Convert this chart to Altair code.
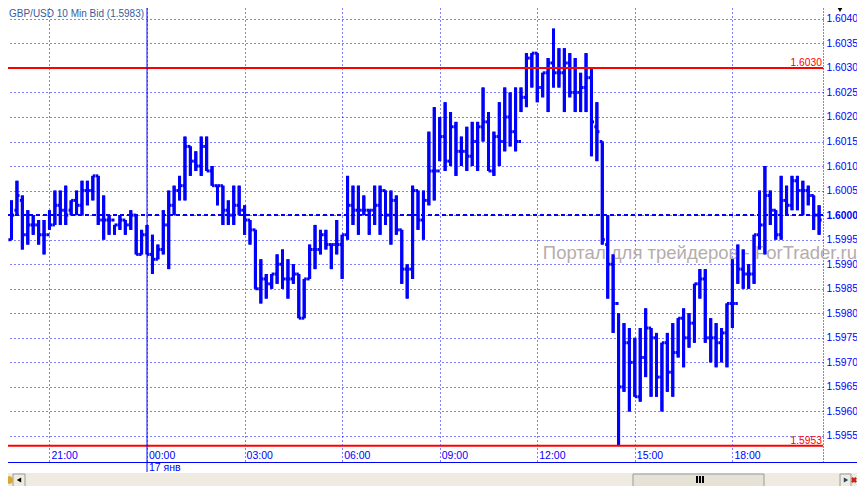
import altair as alt
import pandas as pd

# Pips relative to 1.6000, one entry per 10-minute bar; bar 0 is 17 Jan 00:00
first_bar = -27
highs = [4,-1,3,7,4,1,0,-1,-1,1,5,5,6,3,5,7,7,8,8,4,0,-2,0,-1,1,0,-3,
         -2,-4,-6,1,5,6,8,16,14,13,16,16,10,6,6,3,6,6,2,-1,-3,-9,-12,-12,-8,-7,-9,
         -10,-12,-13,-6,-2,-3,-3,-6,-1,-4,8,6,6,4,1,6,6,5,5,4,-3,-10,6,5,5,17,22,20,23,21,
         19,16,18,19,19,26,21,17,23,26,25,26,26,33,33,33,29,32,38,34,34,33,32,29,33,30,23,15,
         0,-8,-20,-22,-23,-25,-23,-19,-23,-24,-26,-24,-22,-21,-19,-20,-14,-11,-11,-21,-22,-23,-18,
         -9,-6,-7,-10,-4,5,10,5,1,8,6,8,8,7,6,4,2]
lows = [-6,-7,-5,0,-7,-6,-4,-6,-8,-3,-2,-2,-2,0,0,0,2,3,-2,-5,-4,-4,-3,-4,-3,-8,-8,
        -8,-12,-9,-8,-11,0,3,3,8,9,8,9,6,2,-2,-2,-2,0,-4,-6,-15,-18,-17,-15,-14,-15,-17,
        -14,-21,-21,-13,-11,-8,-7,-11,-8,-13,-5,-2,-4,0,-4,-2,-4,-2,-6,-4,-14,-17,-13,-3,-5,2,3,11,9,10,
        8,10,9,10,9,15,9,8,10,13,14,13,21,22,26,23,24,21,26,26,21,24,21,21,21,12,11,-6,
        -17,-24,-47,-36,-40,-37,-38,-33,-37,-37,-40,-36,-37,-29,-31,-27,-26,-17,-26,-30,-31,-30,-31,
        -23,-14,-15,-15,-14,-7,-8,-2,-5,-5,0,1,1,0,2,-3,-4]
closes = [-5,-5,0,4,-4,-2,-2,-4,-4,-2,2,1,0,3,2,5,5,8,-1,-1,-1,-2,-1,-2,0,-8,-4,
          -8,-9,-7,-2,2,5,6,14,11,10,14,9,6,6,1,0,2,1,-1,-3,-15,-13,-14,-12,-10,-13,-13,
          -12,-21,-13,-7,-7,-4,-6,-6,-6,-4,2,1,1,1,1,2,5,0,3,-3,-11,-11,5,-1,3,9,9,16,11,18,
          13,13,12,15,18,19,9,16,15,20,17,15,24,32,33,26,29,31,29,29,31,25,25,26,28,19,17,-5,
          -10,-18,-35,-26,-30,-37,-29,-23,-25,-33,-26,-32,-28,-21,-25,-22,-14,-13,-25,-25,-26,-24,-18,
          -18,-11,-12,-12,-4,-2,4,1,-4,3,2,7,5,5,4,0,-1]
opens = [-6,-5,-5,1,3,-4,-2,-2,-4,-4,-2,2,1,1,3,2,5,5,8,-1,-1,-1,-2,-1,-2,0,-8,
         -4,-8,-9,-7,-2,2,5,6,14,11,10,14,9,6,6,1,0,2,1,-1,-3,-15,-13,-14,-12,-10,-13,
         -13,-12,-21,-13,-7,-7,-4,-6,-6,-6,-4,2,1,1,1,1,2,5,0,3,-3,-11,-11,5,-1,3,9,9,16,11,
         18,13,13,12,15,18,19,9,16,15,20,17,15,24,32,33,26,29,31,29,29,31,25,25,26,28,18,15,
         -6,-10,-18,-35,-26,-30,-37,-29,-23,-25,-33,-26,-32,-28,-21,-25,-22,-14,-13,-25,-25,-26,-24,
         -18,-18,-11,-12,-12,-4,-2,4,1,-4,3,2,7,5,5,4,0]

y_ticks = [1.5955,1.5960,1.5965,1.5970,1.5975,1.5980,1.5985,1.5990,1.5995,1.6000,
           1.6005,1.6010,1.6015,1.6020,1.6025,1.6030,1.6035,1.6040]
x_ticks = [-18,0,18,36,54,72,90,108]
x_labels = ["21:00","00:00","03:00","06:00","09:00","12:00","15:00","18:00"]
date_bar = [0]
date_label = ["17 янв"]
levels_red = [1.6030,1.5953]
level_labels = ["1.6030","1.5953"]

BLUE = "#0000ff"
FONT = "Liberation Sans"
n = min(len(highs), len(lows), len(closes), len(opens))
bars = list(range(first_bar, first_bar + n))
P = lambda v: 1.6 + v * 0.0001
df = pd.DataFrame({
    "bar": bars,
    "high": [P(v) for v in highs[:n]],
    "low": [P(v) for v in lows[:n]],
    "open": [P(v) for v in opens[:n]],
    "close": [P(v) for v in closes[:n]],
})
df["l"] = df.bar - 0.47
df["r"] = df.bar + 0.47

xs = alt.Scale(domain=[-25.65, 124.72], nice=False, zero=False)
ys = alt.Scale(domain=[1.59497, 1.60422], nice=False, zero=False)

y_axis = alt.Axis(orient="right", values=y_ticks, tickCount=40, format=".4f", title=None, ticks=False,
                  grid=True, gridColor=BLUE, gridDash=[1, 3], gridWidth=1,
                  domain=True, domainColor=BLUE, domainDash=[1, 2], domainWidth=1,
                  labelColor=BLUE, labelFont=FONT, labelFontSize=10.3, labelPadding=3,
                  labelOverlap=False, labelFlush=False,
                  labelFontWeight={"condition": {"test": "abs(datum.value-1.6)<0.00001", "value": "bold"},
                                   "value": "normal"})
x_axis = alt.Axis(values=x_ticks, tickCount=40, labels=False, ticks=False, title=None, domain=False,
                  grid=True, gridColor=BLUE, gridDash=[1, 3], gridWidth=1)

hl = alt.Chart(df).mark_rule(color=BLUE, strokeWidth=3).encode(
    x=alt.X("bar:Q", scale=xs, axis=x_axis),
    y=alt.Y("high:Q", scale=ys, axis=y_axis),
    y2="low:Q",
)
op = alt.Chart(df).mark_rule(color=BLUE, strokeWidth=3).encode(
    x=alt.X("l:Q", scale=xs), x2="bar:Q", y=alt.Y("open:Q", scale=ys))
cl = alt.Chart(df).mark_rule(color=BLUE, strokeWidth=3).encode(
    x=alt.X("bar:Q", scale=xs), x2="r:Q", y=alt.Y("close:Q", scale=ys))

watermark = alt.Chart(pd.DataFrame({"t": ["Портал для трейдеров - ForTrader.ru"]})).mark_text(
    align="right", baseline="alphabetic", font=FONT, fontSize=18.5, color="#b5adad"
).encode(x=alt.value(849), y=alt.value(251), text="t:N")

dash = alt.Chart(pd.DataFrame({"v": [1.6]})).mark_rule(color=BLUE, strokeWidth=2, strokeDash=[4, 3]).encode(
    y=alt.Y("v:Q", scale=ys), x=alt.value(0), x2=alt.value(815))

red_df = pd.DataFrame({"v": levels_red, "t": level_labels})
red = alt.Chart(red_df).mark_rule(color="#ff0000", strokeWidth=2).encode(
    y=alt.Y("v:Q", scale=ys), x=alt.value(0), x2=alt.value(815))
red_text = alt.Chart(red_df).mark_text(align="right", baseline="alphabetic", dy=-2, font=FONT,
                                       fontSize=10.3, color="#ff0000").encode(
    y=alt.Y("v:Q", scale=ys), x=alt.value(814), text="t:N")

xlab = alt.Chart(pd.DataFrame({"b": x_ticks, "t": x_labels})).mark_text(
    align="left", baseline="alphabetic", dx=2, font=FONT, fontSize=10.5, color=BLUE
).encode(x=alt.X("b:Q", scale=xs), y=alt.value(451), text="t:N")
dlab = alt.Chart(pd.DataFrame({"b": date_bar, "t": date_label})).mark_text(
    align="left", baseline="alphabetic", dx=2, font=FONT, fontSize=10.5, color=BLUE
).encode(x=alt.X("b:Q", scale=xs), y=alt.value(463), text="t:N")
cursor = alt.Chart(pd.DataFrame({"b": date_bar})).mark_rule(color=BLUE, strokeWidth=1).encode(
    x=alt.X("b:Q", scale=xs), y=alt.value(0), y2=alt.value(464))
axis_line = alt.Chart(pd.DataFrame({"a": [0]})).mark_rule(color=BLUE, strokeWidth=1).encode(
    x=alt.value(0), x2=alt.value(849), y=alt.value(454.5))

title = alt.Chart(pd.DataFrame({"t": ["GBP/USD 10 Min Bid (1.5983)"]})).mark_text(
    align="left", baseline="alphabetic", font=FONT, fontSize=10, color="#3a5a9a"
).encode(x=alt.value(1), y=alt.value(9), text="t:N")

# window chrome along the bottom edge
def box(x0, x1, y0, y1, fill, stroke=None):
    kw = {"fill": fill}
    if stroke:
        kw["stroke"] = stroke
    return alt.Chart(pd.DataFrame({"a": [0]})).mark_rect(**kw).encode(
        x=alt.value(x0), x2=alt.value(x1), y=alt.value(y0), y2=alt.value(y1))

def glyph(x, y, shape, color, size=30, angle=0):
    return alt.Chart(pd.DataFrame({"a": [0]})).mark_point(
        shape=shape, filled=True, color=color, size=size, opacity=1, angle=angle
    ).encode(x=alt.value(x), y=alt.value(y))

chrome = [
    glyph(832, 2, "triangle-down", "#000000", 22),
    box(0, 849, 465, 478, "#efebe0"),
    box(625, 756, 466, 480, "#e6e3d6", "#9a9a9a"),
    box(832, 843, 466, 480, "#efebe0", "#9a9a9a"),
    box(5, 17, 466, 480, "#efebe0", "#9a9a9a"),
    glyph(11, 472, "triangle-left", "#000000", 26),
    glyph(838, 472, "triangle-right", "#23405f", 26),
    glyph(846, 472, "cross", "#c82020", 36, 45),
    glyph(1, 472, "circle", "#d8a830", 60),
    box(688, 690, 468, 475, "#000000"),
    box(691, 693, 468, 475, "#000000"),
    box(694, 696, 468, 475, "#000000"),
]

chart = alt.layer(
    hl, watermark, dash, op, cl, hl, red, red_text, xlab, dlab, cursor, axis_line, title, *chrome
).properties(
    width=815, height=454,
    background="#ffffff",
    autosize=alt.AutoSizeParams(type="none"),
    padding={"left": 0, "top": 0, "right": 34, "bottom": 24},
).configure_view(stroke=None)

chart.save("out.html", embed_options={"renderer": "svg", "actions": False})
